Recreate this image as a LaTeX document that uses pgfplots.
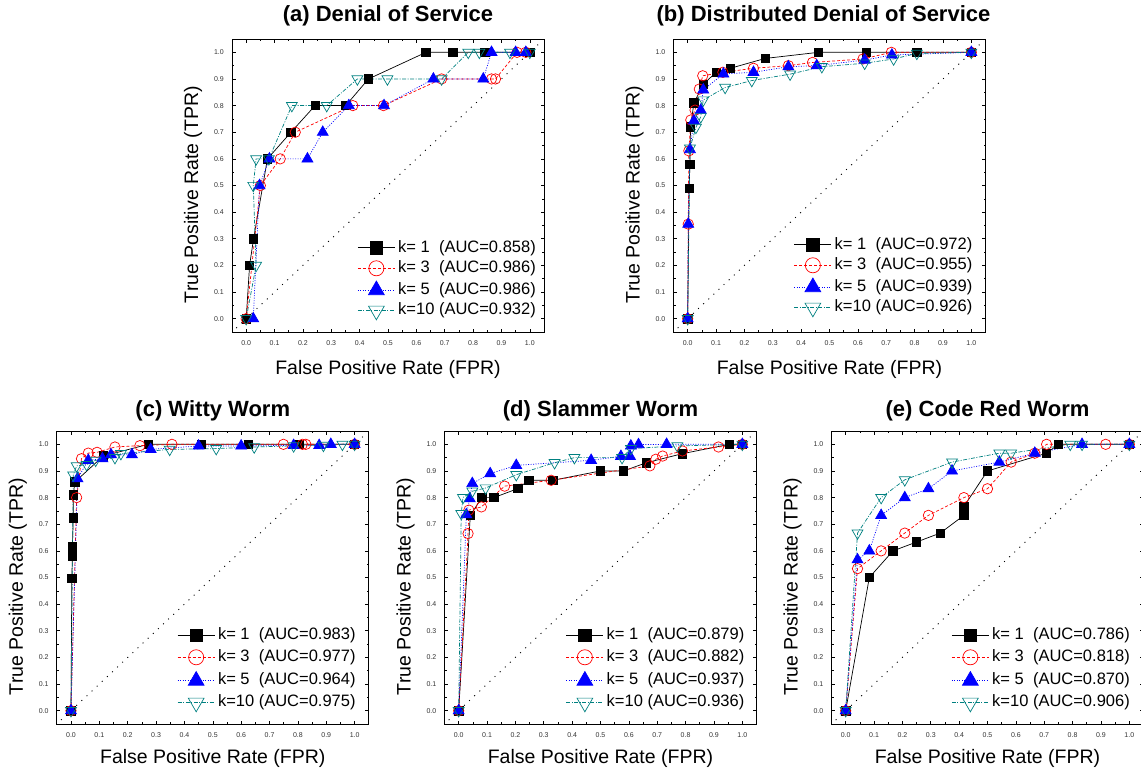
\documentclass[border=0pt]{standalone}
\usepackage{fontspec}
\setmainfont{Liberation Sans}
\usepackage{pgfplots}
\pgfplotsset{compat=1.18}
\definecolor{dcyan}{RGB}{0,128,128}

\pgfplotsset{
 roc/.style={
  scale only axis, width=312pt, height=293pt,
  xmin=-0.05, xmax=1.05, ymin=-0.05, ymax=1.05,
  xtick={0,0.1,0.2,0.3,0.4,0.5,0.6,0.7,0.8,0.9,1},
  ytick={0,0.1,0.2,0.3,0.4,0.5,0.6,0.7,0.8,0.9,1},
  minor tick num=1,
  tick align=inside,
  major tick length=3.5pt, minor tick length=2pt,
  axis line style={line width=0.8pt},
  every tick/.style={black, line width=0.6pt},
  /pgf/number format/fixed, /pgf/number format/fixed zerofill,
  /pgf/number format/precision=1, /pgf/number format/assume math mode=true,
  tick label style={font=\fontsize{7}{8}\selectfont, text=black!80, inner sep=0pt},
  xticklabel style={anchor=north, yshift=-8pt},
  yticklabel style={anchor=east, xshift=-8pt},
  xlabel={False Positive Rate (FPR)},
  ylabel={True Positive Rate (TPR)},
  label style={font=\fontsize{19.5}{22}\selectfont},
  every axis y label/.style={at={(axis description cs:-0.125,0.469)}, rotate=90, anchor=center, font=\fontsize{19.5}{22}\selectfont},
  every axis title/.style={at={(axis description cs:0.5,1)}, anchor=base, font=\bfseries\fontsize{22}{24}\selectfont},
  legend cell align=left,
  legend image code/.code={\draw[mark repeat=2,mark phase=2] plot coordinates {(0pt,0pt) (18.5pt,0pt) (37pt,0pt)};},
  legend image post style={/tikz/every mark/.append style={scale=1.45}},
  legend style={at={(axis description cs:1,0)}, anchor=south east, draw=none, fill=none,
    font=\fontsize{16.5}{18}\selectfont, inner sep=0pt,
    nodes={inner sep=0pt, text height=12pt, text depth=3.5pt},
    /tikz/every odd column/.append style={column sep=3pt}},
 },
 toprow/.style={every axis x label/.style={at={(axis description cs:0.5,0)}, anchor=base, yshift=-42pt, font=\fontsize{19.5}{22}\selectfont},
   title style={yshift=18pt}, legend style={row sep=5pt}},
 botrow/.style={every axis x label/.style={at={(axis description cs:0.5,0)}, anchor=base, yshift=-39pt, font=\fontsize{19.5}{22}\selectfont},
   title style={yshift=14.5pt}, legend style={row sep=6.5pt}},
 kone/.style={black, line width=0.7pt, mark=square*, mark size=4.2pt, mark options={solid, fill=black}},
 kthree/.style={red, line width=0.7pt, dash pattern=on 3pt off 2pt, mark=o, mark size=5.2pt, mark options={solid}},
 kfive/.style={blue, line width=0.7pt, dash pattern=on 1pt off 1.5pt, mark=triangle*, mark size=6.3pt, mark options={solid, fill=blue}},
 kten/.style={dcyan, line width=0.7pt, dash pattern=on 4pt off 1.5pt on 1pt off 1.5pt, mark=triangle, mark size=6.3pt, mark options={solid, rotate=180}},
 diag/.style={black, line width=0.9pt, dash pattern=on 1pt off 6pt, forget plot},
}

\begin{document}
\begin{tikzpicture}
\useasboundingbox (0pt,0pt) rectangle (1141pt,-772pt);

% (a)
\begin{axis}[roc, toprow, at={(232pt,-39pt)}, anchor=north west,
  title={(a) Denial of Service},
  legend style={xshift=-8pt, yshift=12pt}]
\addplot[diag] coordinates {(-0.035,-0.035) (1.04,1.04)};
\addplot[kone] coordinates {(0,0) (0.012,0.2) (0.026,0.3) (0.075,0.6) (0.158,0.7) (0.243,0.8) (0.351,0.8) (0.431,0.9) (0.634,1) (0.728,1) (0.842,1) (1,1)};
\addplot[kthree] coordinates {(0,0) (0.05,0.5) (0.12,0.6) (0.173,0.7) (0.376,0.8) (0.484,0.8) (0.689,0.9) (0.865,0.9) (0.879,0.9) (0.955,1) (0.986,1)};
\addplot[kfive] coordinates {(0.025,0) (0.047,0.5) (0.082,0.6) (0.216,0.6) (0.27,0.7) (0.362,0.8) (0.486,0.8) (0.66,0.9) (0.836,0.9) (0.865,1) (0.95,1) (0.986,1)};
\addplot[kten] coordinates {(0,0) (0.035,0.2) (0.025,0.5) (0.035,0.6) (0.08,0.6) (0.161,0.8) (0.284,0.8) (0.392,0.9) (0.498,0.9) (0.689,0.9) (0.783,1) (0.822,1) (0.93,1) (1,1)};
\legend{k=~1~~(AUC=0.858), k=~3~~(AUC=0.986), k=~5~~(AUC=0.986), k=10~(AUC=0.932)}
\end{axis}

% (b)
\begin{axis}[roc, toprow, at={(673.5pt,-39pt)}, anchor=north west,
  title={(b) Distributed Denial of Service}, title style={xshift=-6pt},
  legend style={xshift=-13pt, yshift=15pt}]
\addplot[diag] coordinates {(-0.035,-0.035) (1.04,1.04)};
\addplot[kone] coordinates {(0,0) (0.005,0.49) (0.008,0.58) (0.01,0.72) (0.022,0.81) (0.055,0.88) (0.1,0.925) (0.15,0.94) (0.273,0.977) (0.461,1) (0.629,1) (0.808,1) (1,1)};
\addplot[kthree] coordinates {(0,0) (0.002,0.355) (0.004,0.63) (0.011,0.746) (0.026,0.783) (0.041,0.862) (0.053,0.912) (0.124,0.925) (0.232,0.94) (0.355,0.95) (0.44,0.962) (0.618,0.975) (0.718,1) (1,1)};
\addplot[kfive] coordinates {(0,0) (0.002,0.355) (0.008,0.635) (0.022,0.743) (0.046,0.783) (0.055,0.859) (0.126,0.919) (0.232,0.925) (0.355,0.946) (0.455,0.95) (0.624,0.971) (0.72,0.99) (1,1)};
\addplot[kten] coordinates {(0,0) (0.008,0.64) (0.029,0.718) (0.046,0.758) (0.055,0.821) (0.132,0.868) (0.226,0.894) (0.361,0.918) (0.473,0.946) (0.624,0.959) (0.726,0.975) (0.808,0.996) (1,1)};
\legend{k=~1~~(AUC=0.972), k=~3~~(AUC=0.955), k=~5~~(AUC=0.939), k=10~(AUC=0.926)}
\end{axis}

% (c)
\begin{axis}[roc, botrow, at={(56.8pt,-431pt)}, anchor=north west,
  title={(c) Witty Worm},
  legend style={xshift=-13pt, yshift=12pt}]
\addplot[diag] coordinates {(-0.035,-0.035) (1.04,1.04)};
\addplot[kone] coordinates {(0,0) (0.003,0.496) (0.005,0.58) (0.005,0.615) (0.008,0.724) (0.008,0.811) (0.014,0.859) (0.114,0.956) (0.272,1) (0.459,1) (0.625,1) (0.804,1) (1,1)};
\addplot[kthree] coordinates {(0,0) (0.02,0.80) (0.037,0.946) (0.061,0.967) (0.092,0.97) (0.155,0.99) (0.243,0.995) (0.356,1) (0.749,1) (0.816,1) (0.828,1) (1,1)};
\addplot[kfive] coordinates {(0,0) (0.023,0.871) (0.061,0.94) (0.111,0.946) (0.141,0.961) (0.215,0.961) (0.281,0.981) (0.45,0.994) (0.6,0.994) (0.785,0.996) (0.875,0.996) (0.916,1) (1,1)};
\addplot[kten] coordinates {(0,0) (0.008,0.884) (0.02,0.919) (0.055,0.924) (0.087,0.94) (0.155,0.95) (0.176,0.965) (0.348,0.981) (0.512,0.984) (0.646,0.99) (0.785,0.994) (0.89,0.996) (0.957,1) (1,1)};
\legend{k=~1~~(AUC=0.983), k=~3~~(AUC=0.977), k=~5~~(AUC=0.964), k=10~(AUC=0.975)}
\end{axis}

% (d)
\begin{axis}[roc, botrow, at={(444.5pt,-431pt)}, anchor=north west,
  title={(d) Slammer Worm},
  legend style={xshift=-12pt, yshift=12pt}]
\addplot[diag] coordinates {(-0.035,-0.035) (1.04,1.04)};
\addplot[kone] coordinates {(0,0) (0.041,0.734) (0.082,0.8) (0.124,0.8) (0.209,0.834) (0.247,0.865) (0.332,0.865) (0.5,0.9) (0.581,0.9) (0.662,0.931) (0.789,0.965) (0.955,1) (1,1)};
\addplot[kthree] coordinates {(0,0) (0.033,0.665) (0.036,0.753) (0.08,0.765) (0.162,0.843) (0.326,0.865) (0.674,0.919) (0.695,0.944) (0.719,0.956) (0.789,0.975) (0.916,0.99) (1,1)};
\addplot[kfive] coordinates {(0,0) (0.027,0.736) (0.039,0.796) (0.048,0.853) (0.111,0.89) (0.203,0.921) (0.467,0.94) (0.572,0.955) (0.604,0.955) (0.607,0.994) (0.634,0.999) (0.733,1) (1,1)};
\addplot[kten] coordinates {(0,0) (0.009,0.74) (0.015,0.8) (0.048,0.824) (0.095,0.836) (0.203,0.886) (0.338,0.931) (0.408,0.95) (0.576,0.95) (0.607,0.984) (0.771,0.994) (1,1)};
\legend{k=~1~~(AUC=0.879), k=~3~~(AUC=0.882), k=~5~~(AUC=0.937), k=10~(AUC=0.936)}
\end{axis}

% (e)
\begin{axis}[roc, botrow, at={(831.5pt,-431pt)}, anchor=north west,
  title={(e) Code Red Worm},
  legend style={xshift=-13.5pt, yshift=12pt}]
\addplot[diag] coordinates {(-0.035,-0.035) (1.04,1.04)};
\addplot[kone] coordinates {(0,0) (0.0833,0.5) (0.1667,0.6) (0.25,0.6333) (0.3333,0.6667) (0.4167,0.7333) (0.4167,0.7667) (0.5,0.9) (0.7083,0.9667) (0.75,1) (1,1)};
\addplot[kthree] coordinates {(0,0) (0.0417,0.5333) (0.125,0.6) (0.2083,0.6667) (0.2917,0.7333) (0.4167,0.8) (0.5,0.8333) (0.5833,0.9333) (0.6667,0.9667) (0.7083,1) (0.9167,1) (1,1)};
\addplot[kfive] coordinates {(0,0) (0.0417,0.5667) (0.0833,0.6) (0.125,0.7333) (0.2083,0.8) (0.2917,0.8333) (0.375,0.9) (0.5417,0.9333) (0.6667,0.9667) (0.8333,1) (1,1)};
\addplot[kten] coordinates {(0,0) (0.0417,0.6667) (0.125,0.8) (0.2083,0.8667) (0.375,0.9333) (0.5417,0.9667) (0.5833,0.9667) (0.7917,1) (0.8333,1) (1,1)};
\legend{k=~1~~(AUC=0.786), k=~3~~(AUC=0.818), k=~5~~(AUC=0.870), k=10~(AUC=0.906)}
\end{axis}
\end{tikzpicture}
\end{document}
